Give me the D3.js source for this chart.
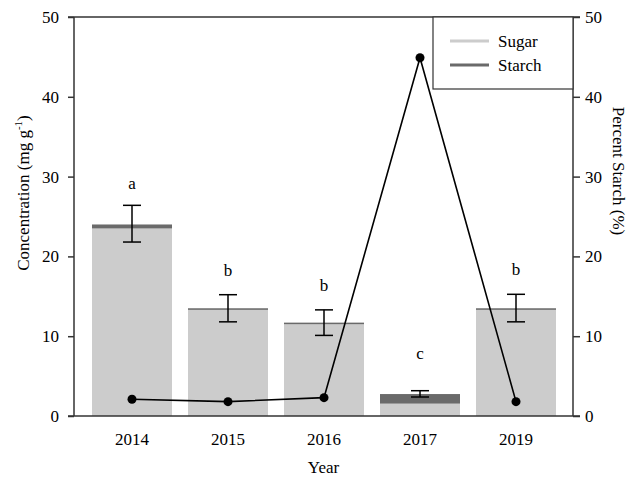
<!DOCTYPE html>
<html>
<head>
<meta charset="utf-8">
<script src="https://cdn.jsdelivr.net/npm/d3@7"></script>
<style>
  body { margin: 0; background: #fff; }
  svg text { font-family: "Liberation Serif", "Times New Roman", serif; fill: #000; }
</style>
</head>
<body>
<svg id="chart" width="633" height="478"></svg>
<script>
// Carbohydrate concentration per year (mg g-1) and percent starch
const years = ["2014", "2015", "2016", "2017", "2019"];
const sugar = [23.5, 13.3, 11.5, 1.55, 13.3];
const starch = [0.5, 0.2, 0.2, 1.2, 0.2];
const errLow = [21.8, 11.8, 10.1, 2.38, 11.8];
const errHigh = [26.4, 15.2, 13.3, 3.17, 15.25];
const groupLetters = ["a", "b", "b", "c", "b"];
const letterY = [28.4, 17.5, 15.7, 7.1, 17.7];
const percentStarch = [2.1, 1.8, 2.3, 44.9, 1.8];
const yTicks = [0, 10, 20, 30, 40, 50];

const svg = d3.select("#chart");
const plotLeft = 74, plotRight = 573, plotTop = 17, plotBottom = 416;

const x = d3.scaleBand().domain(years).range([84, 564]).paddingInner(1 / 6).paddingOuter(1 / 12);
const y = d3.scaleLinear().domain([0, 50]).range([plotBottom, plotTop]);
const y2 = d3.scaleLinear().domain([0, 50]).range([plotBottom, plotTop]);

const totals = sugar.map((s, i) => s + starch[i]);

// stacked bars: sugar at the base, starch on top
svg.append("g").selectAll("rect").data(years).join("rect")
  .attr("x", d => x(d)).attr("width", x.bandwidth())
  .attr("y", (d, i) => y(sugar[i])).attr("height", (d, i) => y(0) - y(sugar[i]))
  .attr("fill", "#cccccc");
svg.append("g").selectAll("rect").data(years).join("rect")
  .attr("x", d => x(d)).attr("width", x.bandwidth())
  .attr("y", (d, i) => y(totals[i])).attr("height", (d, i) => y(sugar[i]) - y(totals[i]))
  .attr("fill", "#6a6a6a");

// error bars
const eb = svg.append("g").attr("stroke", "#000").attr("stroke-width", 1.5);
years.forEach((d, i) => {
  const cx = x(d) + x.bandwidth() / 2;
  eb.append("line").attr("x1", cx).attr("x2", cx).attr("y1", y(errLow[i])).attr("y2", y(errHigh[i]));
  eb.append("line").attr("x1", cx - 9).attr("x2", cx + 9).attr("y1", y(errLow[i])).attr("y2", y(errLow[i]));
  eb.append("line").attr("x1", cx - 9).attr("x2", cx + 9).attr("y1", y(errHigh[i])).attr("y2", y(errHigh[i]));
});

// significance letters
svg.append("g").selectAll("text").data(years).join("text")
  .attr("x", d => x(d) + x.bandwidth() / 2).attr("y", (d, i) => y(letterY[i]))
  .attr("text-anchor", "middle").attr("font-size", 17)
  .text((d, i) => groupLetters[i]);

// percent starch line on the right axis
const line = d3.line().x((d, i) => x(years[i]) + x.bandwidth() / 2).y(d => y2(d));
svg.append("path").datum(percentStarch).attr("d", line)
  .attr("fill", "none").attr("stroke", "#000").attr("stroke-width", 1.6);
svg.append("g").selectAll("circle").data(percentStarch).join("circle")
  .attr("cx", (d, i) => x(years[i]) + x.bandwidth() / 2).attr("cy", d => y2(d))
  .attr("r", 4.5).attr("fill", "#000");

// axes
const axisColor = "#333";
const yAxis = svg.append("g").attr("transform", `translate(${plotLeft},0)`)
  .call(d3.axisLeft(y).tickValues(yTicks).tickSize(6).tickPadding(9));
const y2Axis = svg.append("g").attr("transform", `translate(${plotRight},0)`)
  .call(d3.axisRight(y2).tickValues(yTicks).tickSize(7).tickPadding(5));
const xAxis = svg.append("g").attr("transform", `translate(0,${plotBottom})`)
  .call(d3.axisBottom(x).tickSize(0).tickPadding(17));
[yAxis, y2Axis, xAxis].forEach(g => {
  g.select(".domain").remove();
  g.selectAll(".tick line").attr("stroke", axisColor).attr("stroke-width", 1.5);
  g.selectAll("text").attr("font-size", 17).attr("font-family", "Liberation Serif, serif").attr("fill", "#000");
});

// frame: left, right, bottom and top edges
const frame = svg.append("g").attr("stroke", axisColor).attr("stroke-width", 1.5);
frame.append("line").attr("x1", plotLeft).attr("x2", plotLeft).attr("y1", plotTop).attr("y2", plotBottom);
frame.append("line").attr("x1", plotRight).attr("x2", plotRight).attr("y1", plotTop).attr("y2", plotBottom);
frame.append("line").attr("x1", plotLeft - 6).attr("x2", plotRight + 7).attr("y1", plotBottom).attr("y2", plotBottom);
frame.append("line").attr("x1", plotLeft - 6).attr("x2", plotRight + 7).attr("y1", plotTop).attr("y2", plotTop);

// axis titles
const yt = svg.append("text").attr("transform", "translate(29,193) rotate(-90)")
  .attr("text-anchor", "middle").attr("font-size", 17);
yt.append("tspan").text("Concentration (mg g");
yt.append("tspan").attr("font-size", 11).attr("dy", -7).text("-1");
yt.append("tspan").attr("dy", 7).text(")");

svg.append("text").attr("transform", "translate(613,171) rotate(90)")
  .attr("text-anchor", "middle").attr("font-size", 17).text("Percent Starch (%)");

svg.append("text").attr("x", (plotLeft + plotRight) / 2).attr("y", 473)
  .attr("text-anchor", "middle").attr("font-size", 17).text("Year");

// legend
const legendNames = ["Sugar", "Starch"];
const legendColors = ["#cccccc", "#6a6a6a"];
const lg = svg.append("g");
lg.append("rect").attr("x", 433).attr("y", plotTop).attr("width", plotRight - 433).attr("height", 89 - plotTop)
  .attr("fill", "#fff").attr("stroke", axisColor).attr("stroke-width", 1.2);
legendNames.forEach((n, i) => {
  const ly = 41 + i * 24;
  lg.append("line").attr("x1", 450).attr("x2", 489).attr("y1", ly).attr("y2", ly)
    .attr("stroke", legendColors[i]).attr("stroke-width", 3);
  lg.append("text").attr("x", 498).attr("y", ly + 6).attr("font-size", 17).text(n);
});
</script>
</body>
</html>
